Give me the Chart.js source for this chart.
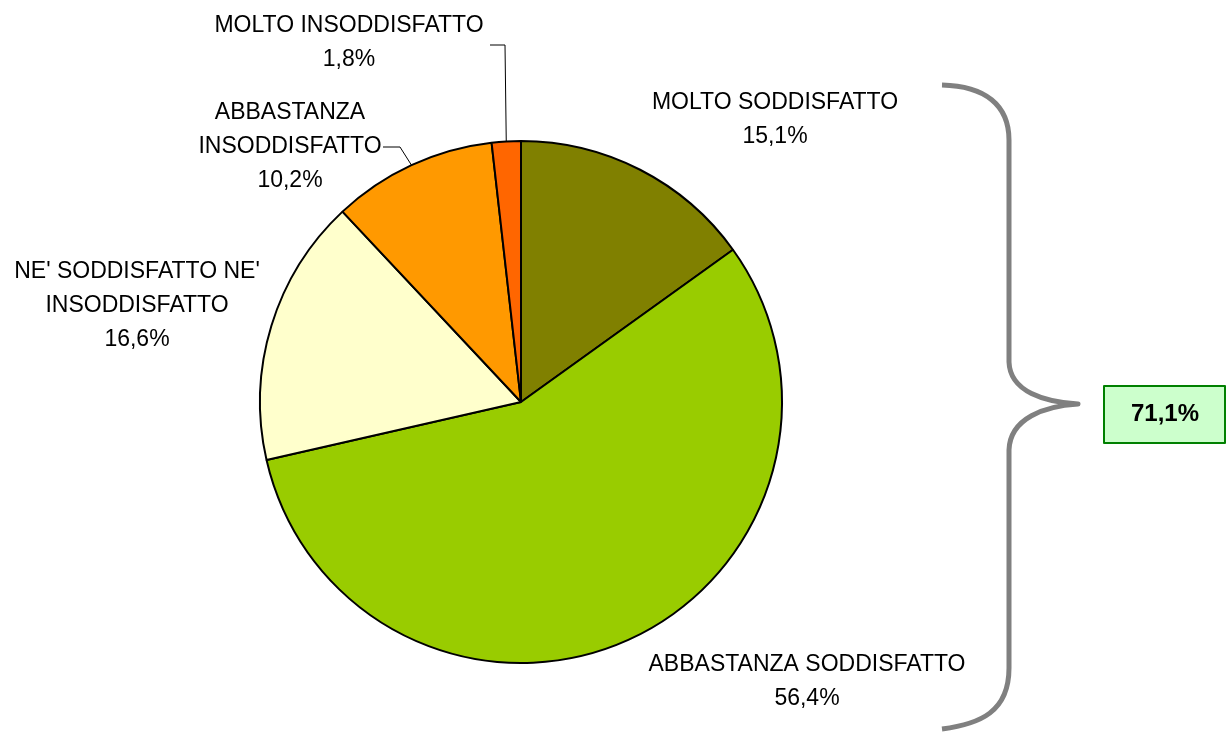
<!DOCTYPE html>
<html>
<head>
<meta charset="utf-8">
<script src="https://cdn.jsdelivr.net/npm/chart.js@4.4.0/dist/chart.umd.min.js"></script>
<style>
  body { margin: 0; background: #fff; }
  #wrap { width: 1226px; height: 735px; }
</style>
</head>
<body>
<div id="wrap"><canvas id="pieChart" width="1226" height="735"></canvas></div>
<script>
// data
const categories = [
    ['MOLTO SODDISFATTO'],
    ['ABBASTANZA SODDISFATTO'],
    ["NE' SODDISFATTO NE'", 'INSODDISFATTO'],
    ['ABBASTANZA', 'INSODDISFATTO'],
    ['MOLTO INSODDISFATTO']
];
const percentages = [15.1, 56.4, 16.6, 10.2, 1.8];
const sliceColors = ['#808000', '#99CC00', '#FFFFCC', '#FF9900', '#FF6600'];
const satisfiedTotal = 71.1;

// where each label sits (centre x, first line y), and whether it gets a leader line
const labelLayout = [
    { x: 775, y: 103 },
    { x: 807, y: 665 },
    { x: 137, y: 272 },
    { x: 290, y: 113, leader: [[400, 147], [383, 147]] },
    { x: 349, y: 26, leader: [[505, 45], [490, 45]] }
];

const fmt = v => v.toFixed(1).replace('.', ',') + '%';
const FONT = '23px "Liberation Sans", Arial, sans-serif';
const LINE_H = 34;

const labelsPlugin = {
    id: 'sliceLabels',
    afterDraw(chart) {
        const ctx = chart.ctx;
        const arcs = chart.getDatasetMeta(0).data;
        ctx.save();
        ctx.font = FONT;
        ctx.fillStyle = '#000';
        ctx.textAlign = 'center';
        ctx.textBaseline = 'middle';
        categories.forEach((lines, i) => {
            const pos = labelLayout[i];
            const all = lines.concat([fmt(percentages[i])]);
            all.forEach((t, k) => ctx.fillText(t, pos.x, pos.y + k * LINE_H));

            if (pos.leader) {
                const arc = arcs[i];
                const mid = (arc.startAngle + arc.endAngle) / 2;
                const px = arc.x + Math.cos(mid) * arc.outerRadius;
                const py = arc.y + Math.sin(mid) * arc.outerRadius;
                ctx.beginPath();
                ctx.strokeStyle = '#000';
                ctx.lineWidth = 1;
                ctx.moveTo(px, py);
                pos.leader.forEach(p => ctx.lineTo(p[0], p[1]));
                ctx.stroke();
            }
        });

        // curly brace grouping the two "soddisfatto" slices
        ctx.beginPath();
        ctx.strokeStyle = '#808080';
        ctx.lineWidth = 5;
        ctx.lineJoin = 'round';
        ctx.moveTo(942, 85);
        ctx.bezierCurveTo(985, 86, 1009, 105, 1009, 140);
        ctx.lineTo(1009, 362);
        ctx.bezierCurveTo(1010, 392, 1045, 402, 1078, 404);
        ctx.bezierCurveTo(1045, 406, 1010, 418, 1009, 450);
        ctx.lineTo(1009, 668);
        ctx.bezierCurveTo(1009, 712, 980, 724, 942, 729);
        ctx.stroke();

        // total box
        ctx.fillStyle = '#CCFFCC';
        ctx.fillRect(1104, 386, 121, 57);
        ctx.strokeStyle = '#008000';
        ctx.lineWidth = 2;
        ctx.strokeRect(1104, 386, 121, 57);
        ctx.fillStyle = '#000';
        ctx.font = 'bold 24px "Liberation Sans", Arial, sans-serif';
        ctx.fillText(fmt(satisfiedTotal), 1165, 414);
        ctx.restore();
    }
};

const ctx = document.getElementById('pieChart').getContext('2d');
new Chart(ctx, {
    type: 'pie',
    data: {
        labels: categories.map(l => l.join(' ')),
        datasets: [{
            data: percentages,
            backgroundColor: sliceColors,
            borderColor: '#000',
            borderWidth: 2
        }]
    },
    options: {
        responsive: false,
        animation: false,
        layout: { padding: { left: 259, top: 140, right: 443, bottom: 71 } },
        plugins: {
            legend: { display: false },
            tooltip: { enabled: false }
        }
    },
    plugins: [labelsPlugin]
});
</script>
</body>
</html>
